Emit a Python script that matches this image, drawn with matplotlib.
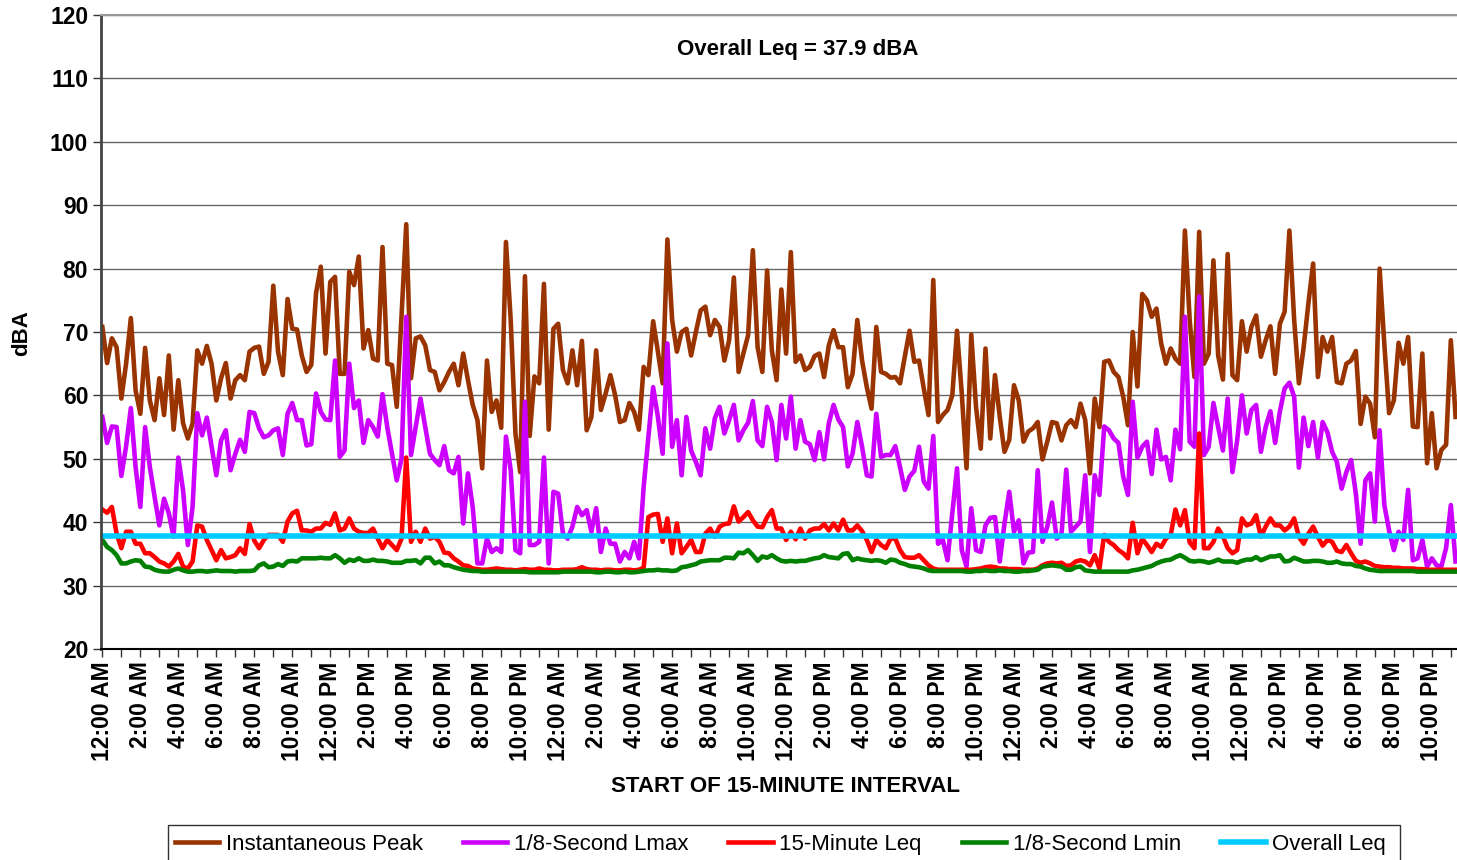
import matplotlib
matplotlib.use("Agg")
import matplotlib.pyplot as plt
from matplotlib.patches import Rectangle
import numpy as np

plt.rcParams["font.family"] = ["Liberation Sans", "DejaVu Sans"]

# 15-minute intervals, 3 days
peak = [
    70.8, 65.1, 69.0, 67.6, 59.5, 65.0, 72.2, 60.8, 57.1, 67.5, 59.2, 56.1, 62.7, 56.9, 66.3, 54.6,
    62.4, 55.6, 53.2, 55.6, 67.1, 65.0, 67.8, 65.0, 59.2, 62.7, 65.1, 59.5, 62.4, 63.2, 62.4, 66.9,
    67.5, 67.7, 63.4, 65.3, 77.3, 66.9, 63.2, 75.2, 70.5, 70.4, 66.3, 63.7, 64.8, 76.1, 80.3, 66.6,
    77.9, 78.7, 63.4, 63.4, 79.5, 77.4, 81.9, 67.4, 70.3, 65.8, 65.5, 83.4, 65.0, 64.8, 58.2, 72.4,
    87.0, 62.7, 69.0, 69.3, 67.9, 64.0, 63.7, 60.8, 62.1, 63.7, 65.0, 61.6, 66.6, 62.4, 58.5, 56.1,
    48.5, 65.5, 57.4, 59.2, 54.9, 84.2, 71.9, 54.0, 47.9, 78.8, 53.6, 63.0, 61.9, 77.6, 54.6, 70.5,
    71.3,
    64.0, 61.9, 67.1, 61.6, 68.6, 54.5, 56.6, 67.1, 57.7, 60.3, 63.2, 60.0, 55.8, 56.1, 58.8, 57.4,
    54.6, 64.5, 63.2, 71.7, 66.9, 61.9, 84.6, 71.9, 66.9, 70.0, 70.5, 66.3, 70.0, 73.4, 74.0, 69.5,
    71.9, 70.8, 65.5, 68.7, 78.6, 63.7, 66.6, 69.5, 82.9, 67.6, 63.7, 79.7, 67.1, 62.4, 76.7, 66.6,
    82.6, 65.3, 66.3, 64.0, 64.5, 66.2, 66.6, 62.9, 67.9, 70.3, 67.6, 67.6, 61.3, 63.4, 71.9, 65.5,
    61.3, 57.9, 70.8, 63.7, 63.4, 62.8, 62.9, 61.9, 66.1, 70.2, 65.3, 65.5, 61.1, 56.9, 78.2, 55.8,
    56.9, 57.7, 60.0, 70.2, 60.3, 48.5, 69.6, 58.2, 51.6, 67.4, 53.2, 63.2, 56.6, 51.1, 53.0, 61.6,
    59.2,
    52.7, 54.3, 54.8, 55.8, 49.9, 52.7, 55.8, 55.6, 52.9, 55.3, 56.1, 55.0, 58.7, 56.1, 47.7, 59.5,
    55.0, 65.3, 65.5, 63.7, 62.9, 59.8, 55.3, 70.0, 61.4, 76.0, 75.0, 72.4, 73.7, 68.2, 65.0, 67.4,
    65.8, 65.0, 86.0, 71.9, 62.9, 85.8, 65.0, 66.6, 81.3, 66.3, 62.5, 82.3, 63.2, 62.4, 71.7, 66.9,
    70.8, 72.6, 66.1, 68.7, 70.9, 63.4, 71.3, 73.2, 86.0, 72.0, 61.9, 67.6, 74.5, 80.8, 62.9, 69.2,
    66.9, 69.2, 62.1, 61.9, 65.0, 65.5, 67.0, 55.5, 59.8, 58.7, 53.4, 80.0, 68.0, 57.2, 59.2, 68.3,
    65.0, 69.2, 55.1, 55.0, 66.6, 49.3, 57.2, 48.5, 51.4, 52.2, 68.7, 56.6,
]

lmax = [
    56.6, 52.5, 55.1, 55.0, 47.3, 52.0, 58.0, 48.7, 42.4, 55.0, 48.7, 44.0, 39.5, 43.7, 41.4, 37.7,
    50.2, 45.0, 36.4, 42.4, 57.2, 53.7, 56.5, 51.9, 47.4, 52.9, 54.5, 48.2, 50.8, 53.0, 51.1, 57.4,
    57.2, 54.8, 53.4, 53.7, 54.5, 54.8, 50.6, 57.1, 58.8, 56.1, 56.1, 52.1, 52.3, 60.3, 57.4, 56.2,
    56.1, 65.5, 50.3, 51.3, 65.0, 58.0, 59.2, 52.5, 56.1, 55.0, 53.5, 60.2, 55.0, 50.8, 46.6, 50.0,
    72.4, 50.6, 55.0, 59.5, 55.0, 50.8, 49.8, 49.0, 52.0, 48.2, 47.7, 50.3, 39.8, 47.7, 42.4, 33.5,
    33.5, 37.4, 35.3, 35.9, 35.3, 53.5, 48.2, 35.6, 35.1, 59.0, 36.4, 36.4, 36.9, 50.2, 33.5, 44.8,
    44.5,
    38.2, 37.4, 39.3, 42.4, 41.1, 41.9, 38.5, 42.2, 35.3, 39.0, 36.6, 36.6, 33.8, 35.3, 34.3, 36.9,
    34.3, 45.6, 53.5, 61.3, 56.6, 50.8, 68.2, 51.9, 56.1, 47.4, 56.6, 51.3, 49.5, 47.4, 54.8, 51.6,
    56.4, 58.2, 54.0, 56.1, 58.5, 52.9, 54.5, 55.7, 59.1, 52.9, 52.0, 58.2, 55.8, 49.8, 58.5, 53.2,
    59.8, 51.6, 56.1, 52.7, 52.3, 49.8, 54.2, 49.9, 55.6, 58.5, 56.2, 55.0, 48.8, 50.8, 55.8, 51.9,
    47.4, 47.2, 57.1, 50.3, 50.6, 50.6, 52.0, 48.7, 45.1, 47.2, 48.1, 51.9, 46.4, 45.3, 53.6, 36.6,
    37.2, 34.0, 41.4, 48.5, 35.6, 33.0, 42.2, 35.6, 35.3, 39.5, 40.7, 40.8, 33.8, 39.8, 44.8, 38.5,
    40.3,
    33.5, 35.2, 35.3, 48.2, 36.9, 39.3, 43.1, 37.4, 38.0, 48.3, 38.5, 39.3, 40.1, 47.4, 35.3, 47.4,
    44.3, 55.1, 54.5, 53.2, 52.5, 47.2, 44.3, 59.0, 50.2, 51.9, 52.7, 47.6, 54.6, 49.9, 50.3, 46.6,
    54.6, 51.5, 72.4, 52.7, 51.9, 75.6, 50.6, 51.9, 58.8, 55.0, 51.3, 59.5, 47.9, 52.9, 60.0, 54.0,
    57.7, 58.5, 51.1, 55.0, 57.5, 52.5, 57.5, 61.1, 62.0, 59.8, 48.6, 56.5, 52.0, 55.8, 50.2, 55.8,
    54.2, 51.1, 49.5, 45.3, 47.9, 49.8, 44.5, 36.6, 46.6, 47.7, 40.1, 54.5, 42.7, 38.7, 35.6, 38.5,
    37.2, 45.1, 34.0, 34.3, 37.2, 33.0, 34.3, 33.2, 33.0, 35.9, 42.7, 33.8,
]

leq15 = [
    42.0, 41.5, 42.4, 38.2, 35.9, 38.5, 38.5, 36.6, 36.6, 35.1, 35.1, 34.5, 33.8, 33.5, 33.0, 33.8,
    35.0, 33.0, 32.7, 33.8, 39.5, 39.3, 37.2, 35.6, 34.0, 35.6, 34.3, 34.5, 34.8, 35.9, 35.0, 39.7,
    37.1, 35.9, 37.2, 38.0, 38.0, 38.0, 36.9, 40.1, 41.4, 41.8, 38.7, 38.7, 38.5, 39.0, 39.0, 39.9,
    39.6, 41.4, 38.7, 39.0, 40.6, 39.0, 38.5, 38.3, 38.3, 39.0, 37.4, 35.9, 37.2, 36.4, 35.6, 37.4,
    50.2, 36.9, 38.5, 36.9, 39.0, 37.4, 37.7, 36.9, 35.2, 35.1, 34.3, 33.8, 33.2, 33.1, 32.7, 32.6,
    32.5, 32.5, 32.6, 32.7, 32.6, 32.5, 32.5, 32.4, 32.5, 32.6, 32.5, 32.5, 32.7, 32.5, 32.5, 32.4,
    32.4,
    32.5, 32.5, 32.5, 32.6, 32.9, 32.6, 32.5, 32.5, 32.4, 32.5, 32.5, 32.4, 32.4, 32.5, 32.5, 32.4,
    32.5, 32.8, 40.8, 41.2, 41.3, 36.9, 40.6, 35.1, 39.8, 35.1, 36.1, 37.2, 35.3, 35.3, 38.2, 39.0,
    37.7, 39.3, 39.7, 39.8, 42.5, 40.1, 40.8, 41.6, 40.3, 39.3, 39.2, 40.8, 41.9, 39.0, 39.0, 37.2,
    38.5, 37.3, 39.0, 37.4, 38.7, 39.0, 39.0, 39.7, 38.7, 39.8, 38.7, 40.4, 38.7, 38.7, 39.5, 38.6,
    37.2, 35.3, 37.2, 36.4, 35.9, 37.4, 37.4, 35.6, 34.5, 34.4, 34.4, 34.8, 34.0, 33.2, 32.7, 32.5,
    32.5, 32.5, 32.5, 32.5, 32.5, 32.5, 32.5, 32.6, 32.7, 32.9, 33.0, 32.9, 32.7, 32.7, 32.6, 32.6,
    32.6,
    32.5, 32.5, 32.5, 32.7, 33.2, 33.5, 33.6, 33.5, 33.6, 33.1, 33.2, 33.8, 34.0, 33.8, 33.2, 34.8,
    32.7, 38.0, 36.9, 36.4, 35.6, 35.1, 34.3, 39.9, 35.1, 37.4, 36.4, 35.3, 36.6, 36.1, 37.4, 38.0,
    42.0, 39.5, 41.9, 36.8, 35.9, 54.0, 35.9, 35.9, 36.9, 39.0, 37.8, 35.9, 35.1, 35.6, 40.6, 39.5,
    39.8, 41.1, 37.7, 39.3, 40.6, 39.5, 39.5, 38.7, 39.3, 40.6, 37.7, 36.6, 38.2, 39.3, 37.7, 36.3,
    37.2, 36.9, 35.5, 35.3, 36.4, 35.1, 33.9, 33.6, 33.8, 33.5, 33.1, 33.0, 32.9, 32.9, 32.8, 32.8,
    32.7, 32.7, 32.7, 32.6, 32.6, 32.5, 32.5, 32.5, 32.5, 32.5, 32.5, 32.5,
]

lmin = [
    37.2, 36.1, 35.6, 34.8, 33.5, 33.5, 33.8, 34.0, 33.9, 33.0, 32.9, 32.5, 32.3, 32.2, 32.2, 32.5,
    32.7, 32.4, 32.2, 32.2, 32.3, 32.3, 32.2, 32.3, 32.4, 32.3, 32.3, 32.3, 32.2, 32.3, 32.3, 32.3,
    32.4, 33.2, 33.5, 32.9, 33.0, 33.4, 33.1, 33.8, 33.9, 33.8, 34.3, 34.3, 34.3, 34.3, 34.4, 34.3,
    34.3, 34.8, 34.3, 33.6, 34.1, 33.9, 34.3, 33.9, 33.9, 34.1, 33.9, 33.9, 33.8, 33.6, 33.6, 33.6,
    33.9, 33.9, 34.0, 33.5, 34.4, 34.4, 33.5, 33.8, 33.2, 33.2, 32.9, 32.7, 32.5, 32.4, 32.3, 32.3,
    32.2, 32.2, 32.2, 32.2, 32.2, 32.2, 32.2, 32.2, 32.2, 32.2, 32.1, 32.1, 32.1, 32.1, 32.1, 32.1,
    32.1,
    32.2, 32.2, 32.2, 32.2, 32.2, 32.2, 32.2, 32.1, 32.1, 32.2, 32.2, 32.1, 32.1, 32.2, 32.1, 32.1,
    32.2, 32.3, 32.4, 32.4, 32.5, 32.4, 32.4, 32.3, 32.4, 32.9, 33.0, 33.2, 33.4, 33.8, 33.9, 34.0,
    34.0, 34.0, 34.4, 34.4, 34.3, 35.2, 35.1, 35.6, 34.8, 33.9, 34.6, 34.4, 34.8, 34.3, 33.9, 33.8,
    33.9, 33.8, 33.9, 33.9, 34.1, 34.3, 34.4, 34.8, 34.5, 34.4, 34.3, 35.0, 35.1, 34.0, 34.3, 34.1,
    34.0, 33.9, 34.0, 33.9, 33.6, 34.1, 34.0, 33.6, 33.4, 33.1, 33.0, 32.9, 32.7, 32.4, 32.3, 32.3,
    32.3, 32.3, 32.3, 32.3, 32.3, 32.2, 32.2, 32.3, 32.3, 32.4, 32.3, 32.3, 32.4, 32.3, 32.3, 32.2,
    32.2,
    32.3, 32.3, 32.4, 32.5, 33.0, 33.1, 33.2, 33.1, 33.0, 32.5, 32.5, 32.9, 33.0, 32.4, 32.3, 32.2,
    32.2, 32.2, 32.2, 32.2, 32.2, 32.2, 32.2, 32.4, 32.5, 32.7, 32.9, 33.1, 33.5, 33.8, 34.0, 34.1,
    34.5, 34.8, 34.4, 33.9, 33.8, 33.9, 33.8, 33.6, 33.8, 34.1, 33.8, 33.8, 33.8, 33.6, 33.9, 34.1,
    34.1, 34.5, 34.0, 34.3, 34.6, 34.6, 34.8, 33.8, 33.9, 34.4, 34.1, 33.8, 33.8, 33.9, 33.9, 33.8,
    33.6, 33.6, 33.8, 33.5, 33.4, 33.4, 33.1, 33.0, 32.7, 32.5, 32.4, 32.3, 32.3, 32.3, 32.3, 32.3,
    32.3, 32.3, 32.3, 32.2, 32.2, 32.2, 32.2, 32.2, 32.2, 32.2, 32.2, 32.2,
]

overall_leq = 37.9

day_labels = ["12:00 AM", "2:00 AM", "4:00 AM", "6:00 AM", "8:00 AM", "10:00 AM",
              "12:00 PM", "2:00 PM", "4:00 PM", "6:00 PM", "8:00 PM", "10:00 PM"]
tick_labels = day_labels * 3

n = len(peak)
x = np.arange(n)

fig = plt.figure(figsize=(14.57, 8.6), dpi=100)
ax = fig.add_axes([100.7 / 1457, 211 / 860, 1356.3 / 1457, 634 / 860])

ax.plot(x, peak, color="#993300", lw=3.3, solid_joinstyle="round", label="Instantaneous Peak")
ax.plot(x, lmax, color="#CC00FF", lw=3.3, solid_joinstyle="round", label="1/8-Second Lmax")
ax.plot(x, leq15, color="#FF0000", lw=3.3, solid_joinstyle="round", label="15-Minute Leq")
ax.plot(x, lmin, color="#008000", lw=3.3, solid_joinstyle="round", label="1/8-Second Lmin")
ax.plot(x, [overall_leq] * n, color="#00CCFF", lw=4, label="Overall Leq")

ax.set_xlim(-0.35, 285.3)
ax.set_ylim(20, 120)
ax.set_yticks(range(20, 121, 10))
ax.grid(axis="y", color="#666666", lw=1)
ax.set_axisbelow(True)

ticks = list(range(0, n, 4))
ax.set_xticks(ticks)
ax.set_xticklabels([tick_labels[k // 2] if k % 2 == 0 else "" for k in range(len(ticks))],
                   rotation=90, fontsize=16.5, fontweight="bold")
for lab in ax.get_yticklabels():
    lab.set_fontsize(16.5)
    lab.set_fontweight("bold")
ax.tick_params(axis="both", direction="out", length=6, width=1, color="#333333", pad=3)

ax.spines["right"].set_visible(False)
ax.spines["top"].set_color("#999999")
ax.spines["top"].set_linewidth(1.5)
ax.spines["left"].set_color("#444444")
ax.spines["left"].set_linewidth(2)
ax.spines["bottom"].set_color("#000000")
ax.spines["bottom"].set_linewidth(1.5)

fig.text(797.5 / 1457, 1 - 49 / 860, "Overall Leq = 37.9 dBA", ha="center", va="center",
         fontsize=16, fontweight="bold")
fig.text(22 / 1457, 1 - 333 / 860, "dBA", rotation=90, ha="center", va="center",
         fontsize=16, fontweight="bold")
fig.text(785 / 1457, 1 - 787 / 860, "START OF 15-MINUTE INTERVAL", ha="center", va="center",
         fontsize=16, fontweight="bold")

leg = fig.legend(loc="upper left", bbox_to_anchor=(168 / 1457, 1 - 827 / 860), ncol=5,
                 fontsize=16, frameon=False, handlelength=2.0,
                 handletextpad=0.3, columnspacing=1.8, borderpad=0.3, borderaxespad=0)
fig.patches.append(Rectangle((168 / 1457, -0.01), (1400 - 168) / 1457, (860 - 825) / 860 + 0.01,
                             transform=fig.transFigure, fill=False, edgecolor="#333333", lw=1))

fig.savefig("out.png", dpi=100)
